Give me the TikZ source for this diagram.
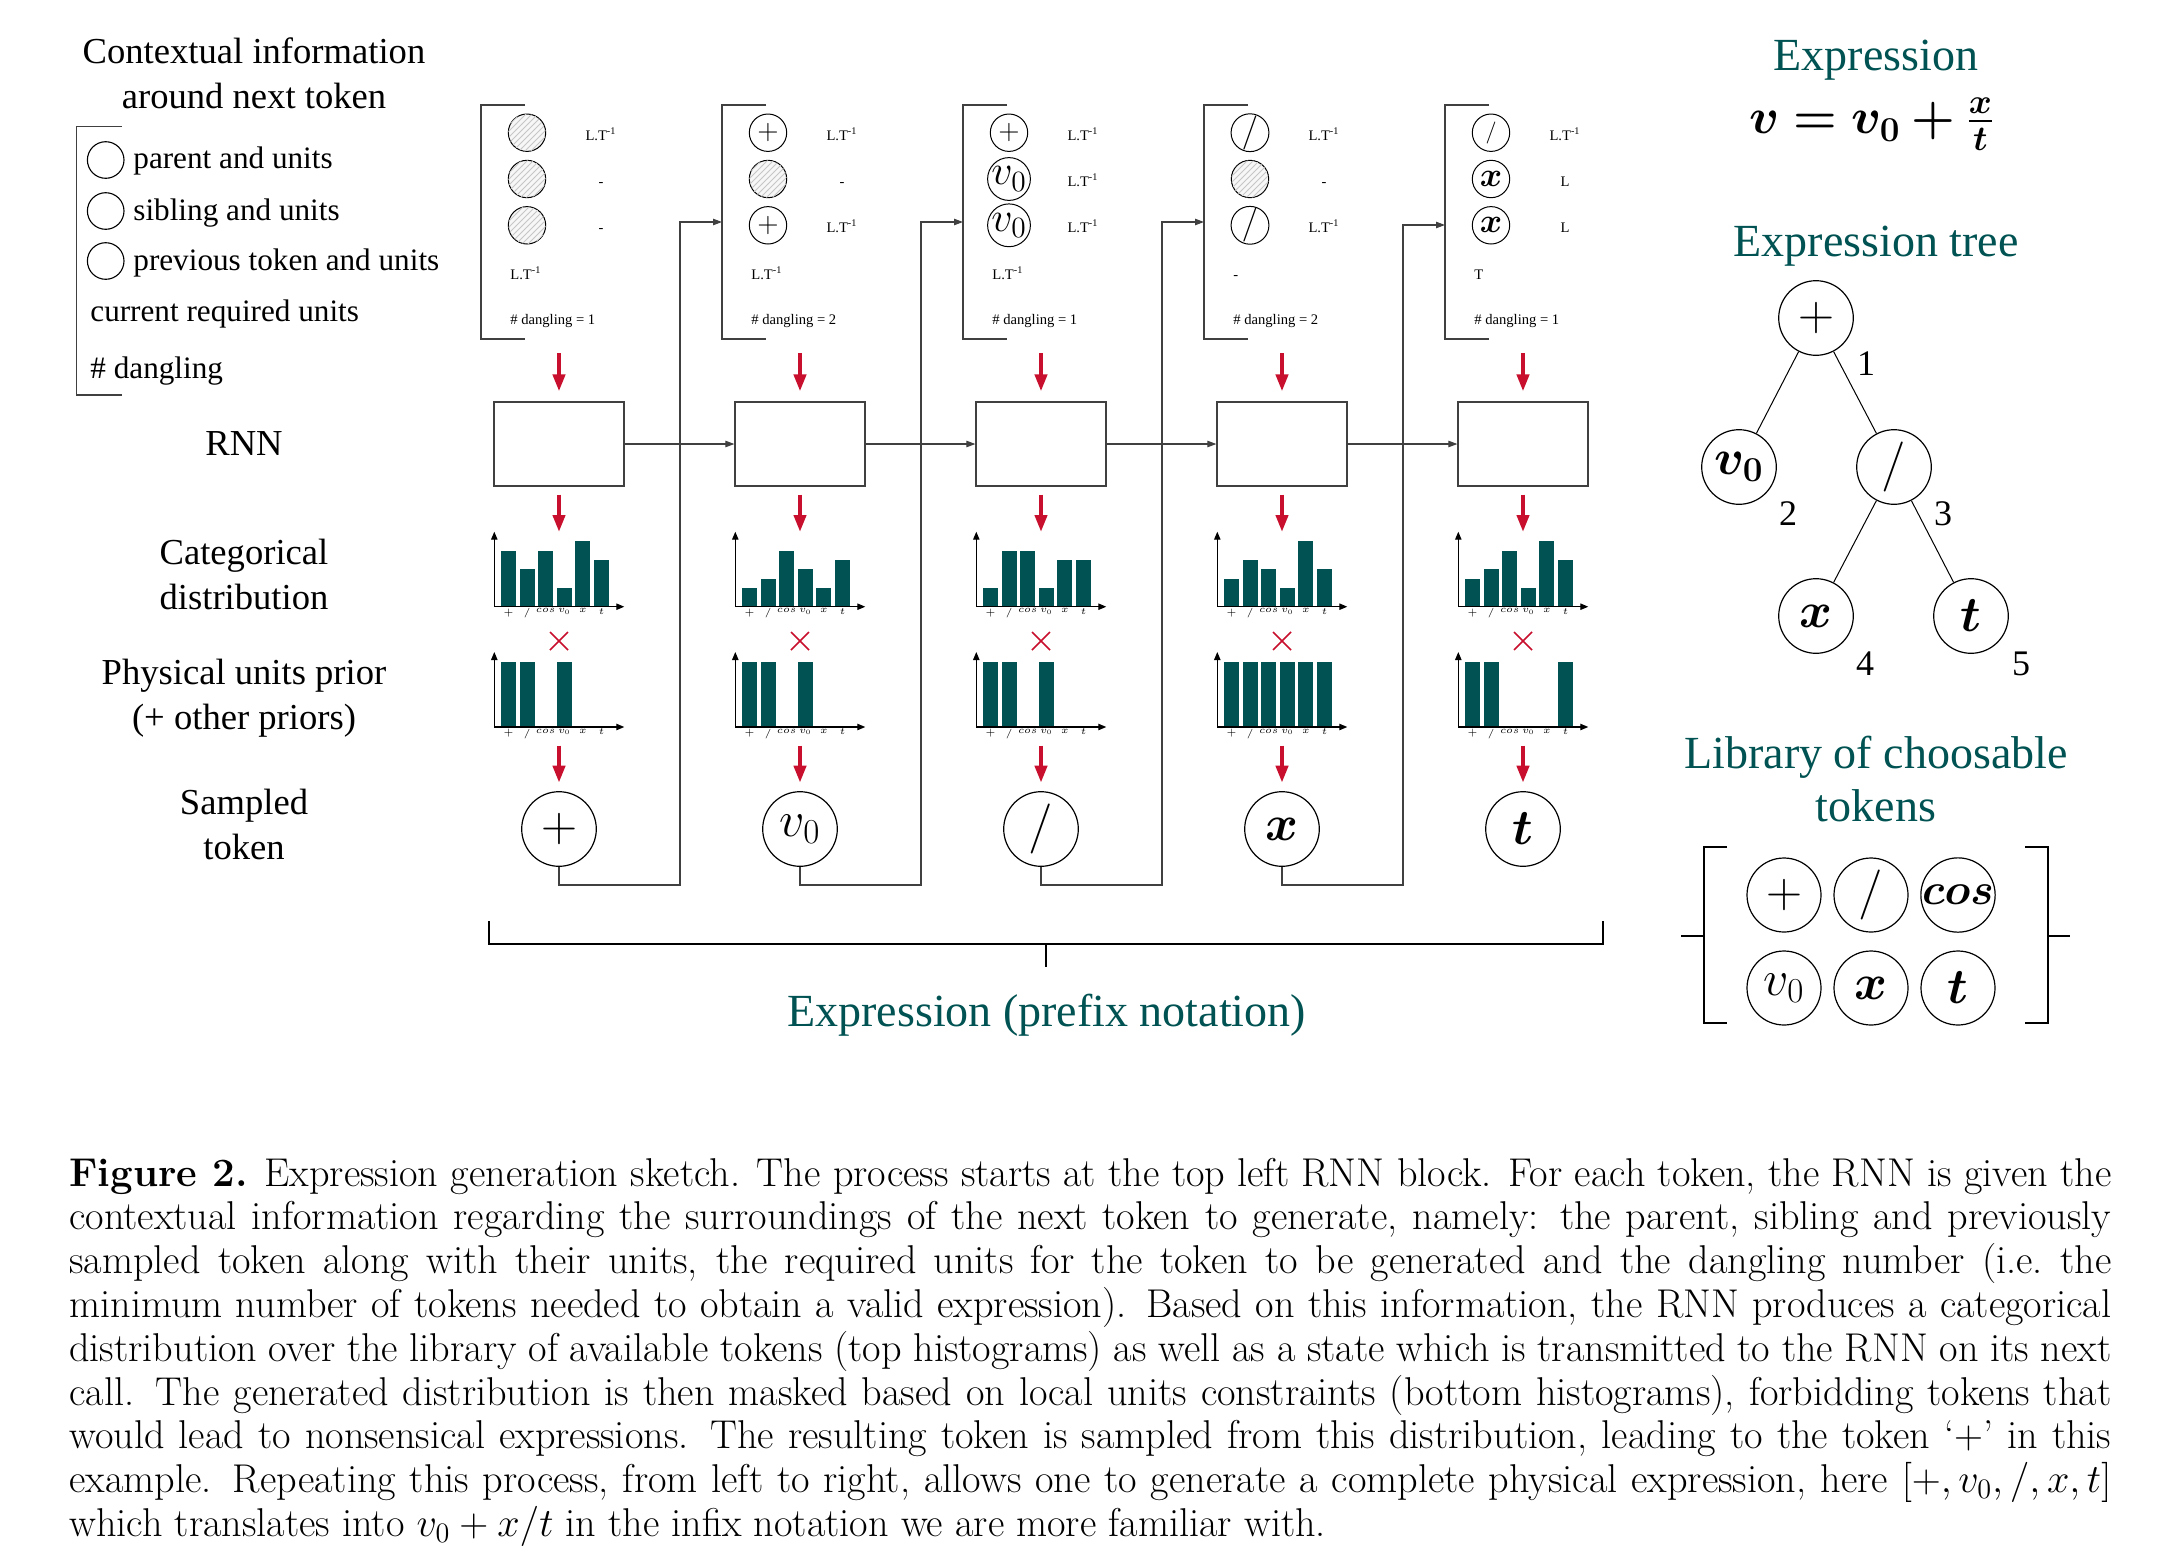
\RequirePackage{fix-cm}
\documentclass[tikz,border=0pt]{standalone}
\usepackage[no-math]{fontspec}
\usepackage{amsmath}
\usepackage{bm}
\newfontfamily\tnr{Liberation Serif}
\usetikzlibrary{arrows.meta,patterns}
\definecolor{tealc}{RGB}{0,83,82}
\definecolor{redc}{RGB}{200,16,46}
\definecolor{linec}{RGB}{64,64,64}
\newcommand\unitLT{L.T\textsuperscript{-1}}
% histogram: center x, baseline y, levels, id
\newcommand\drawhist[4]{%
  \foreach \hh [count=\ii from 0] in {#3}{%
    \fill[tealc] (#1-58+18.6*\ii,#2) rectangle (#1-43+18.6*\ii,#2-9.35*\hh);}
  \draw[axisst] (#1-64.7,#2) -- (#1-64.7,#2-75);
  \draw[axisst] (#1-64.7,#2) -- (#1+65.3,#2);
  \foreach \lab [count=\ii from 0] in {$+$,$/$,$cos$,$v_0$,$x$,$t$}{%
    \node[tick,anchor=north] (#4-\ii) at (#1-50.5+18.6*\ii,#2+1.5) {\lab};}
}
\begin{document}
\begin{tikzpicture}[x=0.5pt,y=-0.5pt,
  lbl/.style={font=\tnr\fontsize{18.3}{22.5}\selectfont,align=center,inner sep=0pt},
  item/.style={font=\tnr\fontsize{15.6}{19}\selectfont,anchor=base west,inner sep=0pt},
  ttl/.style={font=\tnr\fontsize{23}{26.7}\selectfont,text=tealc,align=center,inner sep=0pt},
  unit/.style={font=\tnr\fontsize{7.3}{9}\selectfont,inner sep=0pt,anchor=base},
  tick/.style={font=\fontsize{4.8}{5.5}\selectfont,inner sep=0pt},
  num/.style={font=\tnr\fontsize{18}{21}\selectfont,inner sep=0pt},
  big/.style={font=\fontsize{25}{29}\selectfont},
  cc/.style={circle,draw=black,line width=0.5pt,minimum size=18.7pt,inner sep=0pt,font=\fontsize{14}{16}\selectfont},
  hatch/.style={cc,fill=gray!6,postaction={pattern=north east lines,pattern color=gray!45}},
  lc/.style={circle,draw=black,line width=0.55pt,minimum size=18.3pt,inner sep=0pt},
  tokc/.style={circle,draw=black,line width=0.6pt,minimum size=37.3pt,inner sep=0pt,font=\fontsize{25}{29}\selectfont},
  rnn/.style={draw=linec,line width=0.6pt,minimum width=65pt,minimum height=42pt,inner sep=0pt},
  brk/.style={draw=linec,line width=0.6pt},
  redarrow/.style={draw=redc,line width=2pt,-{Triangle[length=8.5pt,width=6pt]}},
  flow/.style={draw=linec,line width=0.55pt,-{Triangle[length=4.5pt,width=3.2pt]}},
  axisst/.style={draw=black,line width=0.55pt,-{Triangle[length=4pt,width=3.2pt]}},
  edge/.style={draw=black,line width=0.5pt},
  bigbrk/.style={draw=black,line width=0.9pt}
]
\fill[white] (0,0) rectangle (2181,1564);
\useasboundingbox (0,0) rectangle (2181,1564);

% ---------------- left labels ----------------
\node[lbl,anchor=north] (ctxh) at (254,37.7) {Contextual information\\around next token};
\draw[brk] (121.7,126.7) -- (76.7,126.7) -- (76.7,395) -- (121.7,395);
\node[lc] (lp) at (105.7,160) {};
\node[lc] (ls) at (105.7,211) {};
\node[lc] (lv) at (105.7,261) {};
\node[item] (tp) at (133,168.3) {parent and units};
\node[item] (ts) at (133,220) {sibling and units};
\node[item] (tv) at (133,270) {previous token and units};
\node[item] (tc) at (90,321.7) {current required units};
\node[item] (td) at (90,378.3) {\# dangling};
\node[lbl,anchor=base] (lrnn) at (244,455) {RNN};
\node[lbl,anchor=north] (lcat) at (244,538.3) {Categorical\\distribution};
\node[lbl,anchor=north] (lphy) at (244,658.3) {Physical units prior\\(+ other priors)};
\node[lbl,anchor=north] (lsam) at (244,788.3) {Sampled\\token};

% ---------------- context brackets, RNN boxes, arrows ----------------
\foreach \k in {0,...,4}{
  \pgfmathsetmacro\cx{559+241*\k}
  \pgfmathsetmacro\bx{481+241*\k}
  \draw[brk] (\bx+44,105) -- (\bx,105) -- (\bx,339) -- (\bx+44,339);
  \node[rnn] (box\k) at (\cx,444) {};
  \coordinate (ra\k) at (\cx,353);
  \coordinate (hta\k) at (\cx,532);
  \coordinate (hbb\k) at (\cx,745.7);
  \draw[redarrow] (ra\k) -- ([yshift=5pt]box\k.north);
  \draw[redarrow] ([yshift=-4pt]box\k.south) -- (hta\k);
  \draw[redc,line width=0.8pt] (\cx-9,632) -- (\cx+9,650) (\cx-9,650) -- (\cx+9,632);
}

% context column 0
\node[hatch] (c0a) at (527,132.7) {};
\node[hatch] (c0b) at (527,179) {};
\node[hatch] (c0c) at (527,225.3) {};
\node[unit] (u0a) at (601,140.5) {\unitLT};
\node[unit] (u0b) at (601,186.5) {-};
\node[unit] (u0c) at (601,232.8) {-};
\node[unit,anchor=base west] (u0r) at (510,279.3) {\unitLT};
\node[unit,anchor=base west] (d0) at (510,324) {\# dangling = 1};
% context column 1
\node[cc] (c1a) at (768,132.7) {$+$};
\node[hatch] (c1b) at (768,179) {};
\node[cc] (c1c) at (768,225.3) {$+$};
\node[unit] (u1a) at (842,140.5) {\unitLT};
\node[unit] (u1b) at (842,186.5) {-};
\node[unit] (u1c) at (842,232.8) {\unitLT};
\node[unit,anchor=base west] (u1r) at (751,279.3) {\unitLT};
\node[unit,anchor=base west] (d1) at (751,324) {\# dangling = 2};
% context column 2
\node[cc] (c2a) at (1009,132.7) {$+$};
\node[cc,font=\fontsize{21}{23}\selectfont] (c2b) at (1009,179) {$v_0$};
\node[cc,font=\fontsize{21}{23}\selectfont] (c2c) at (1009,225.3) {$v_0$};
\node[unit] (u2a) at (1083,140.5) {\unitLT};
\node[unit] (u2b) at (1083,186.5) {\unitLT};
\node[unit] (u2c) at (1083,232.8) {\unitLT};
\node[unit,anchor=base west] (u2r) at (992,279.3) {\unitLT};
\node[unit,anchor=base west] (d2) at (992,324) {\# dangling = 1};
% context column 3
\node[cc,font=\fontsize{17}{19}\selectfont] (c3a) at (1250,132.7) {$/$};
\node[hatch] (c3b) at (1250,179) {};
\node[cc,font=\fontsize{17}{19}\selectfont] (c3c) at (1250,225.3) {$/$};
\node[unit] (u3a) at (1324,140.5) {\unitLT};
\node[unit] (u3b) at (1324,186.5) {-};
\node[unit] (u3c) at (1324,232.8) {\unitLT};
\node[unit,anchor=base west] (u3r) at (1233,279.3) {-};
\node[unit,anchor=base west] (d3) at (1233,324) {\# dangling = 2};
% context column 4
\node[cc,font=\fontsize{11}{13}\selectfont] (c4a) at (1491,132.7) {$/$};
\node[cc,font=\fontsize{17}{19}\selectfont] (c4b) at (1491,179) {$\bm{x}$};
\node[cc,font=\fontsize{17}{19}\selectfont] (c4c) at (1491,225.3) {$\bm{x}$};
\node[unit] (u4a) at (1565,140.5) {\unitLT};
\node[unit] (u4b) at (1565,186.5) {L};
\node[unit] (u4c) at (1565,232.8) {L};
\node[unit,anchor=base west] (u4r) at (1474,279.3) {T};
\node[unit,anchor=base west] (d4) at (1474,324) {\# dangling = 1};

% RNN state arrows
\foreach \k [evaluate=\k as \j using int(\k+1)] in {0,...,3}{
  \draw[flow] (box\k.east) -- (box\j.west);
}

% ---------------- histograms ----------------
\drawhist{559}{606.7}{6,4,6,2,7,5}{ha0}
\drawhist{800}{606.7}{2,3,6,4,2,5}{ha1}
\drawhist{1041}{606.7}{2,6,6,2,5,5}{ha2}
\drawhist{1282}{606.7}{3,5,4,2,7,4}{ha3}
\drawhist{1523}{606.7}{3,4,6,2,7,5}{ha4}
\drawhist{559}{727}{7,7,0,7,0,0}{hb0}
\drawhist{800}{727}{7,7,0,7,0,0}{hb1}
\drawhist{1041}{727}{7,7,0,7,0,0}{hb2}
\drawhist{1282}{727}{7,7,7,7,7,7}{hb3}
\drawhist{1523}{727}{7,7,0,0,0,7}{hb4}

% ---------------- sampled tokens ----------------
\node[tokc] (tok0) at (559,829) {$+$};
\node[tokc] (tok1) at (800,829) {$v_0$};
\node[tokc] (tok2) at (1041,829) {$/$};
\node[tokc] (tok3) at (1282,829) {$\bm{x}$};
\node[tokc] (tok4) at (1523,829) {$\bm{t}$};
\foreach \k in {0,...,4}{
  \draw[redarrow] (hbb\k) -- ([yshift=4.2pt]tok\k.north);
}

% feedback connections
\coordinate (in1) at (722,222);
\coordinate (in2) at (963,222);
\coordinate (in3) at (1204,222);
\coordinate (in4) at (1445,225);
\foreach \k [evaluate=\k as \j using int(\k+1), evaluate=\k as \fx using 680+241*\k] in {0,...,3}{
  \draw[flow] (tok\k.south) |- (\fx,885) |- (in\j);
}

% ---------------- bottom bracket ----------------
\draw[bigbrk] (489,921) -- (489,943.7) -- (1603,943.7) -- (1603,921);
\coordinate (bmid) at (1046,943.7);
\draw[bigbrk,line width=0.6pt] (bmid) -- ++(0,23.3);
\node[ttl,anchor=base] (prefix) at (1046.7,1026.7) {Expression (prefix notation)};

% ---------------- right side ----------------
\node[ttl,anchor=base] (exprt) at (1876,70) {Expression};
\node[big,anchor=base,inner sep=0pt] (eqn) at (1872,133.6) {$\bm{v}\mathrel{\bm{=}}\bm{v}_{\bm{0}}\mathbin{\bm{+}}\frac{\bm{x}}{\bm{t}}$};
\node[ttl,anchor=base] (treet) at (1876,256) {Expression tree};

\node[tokc] (tn1) at (1816,318) {$+$};
\node[tokc] (tn2) at (1739,467) {$\bm{v}_{\bm{0}}$};
\node[tokc] (tn3) at (1894,467) {$/$};
\node[tokc] (tn4) at (1816,616) {$\bm{x}$};
\node[tokc] (tn5) at (1971,616) {$\bm{t}$};
\draw[edge] (tn1) -- (tn2);
\draw[edge] (tn1) -- (tn3);
\draw[edge] (tn3) -- (tn4);
\draw[edge] (tn3) -- (tn5);
\node[num] (n1) at (1866,364) {1};
\node[num] (n2) at (1788,514) {2};
\node[num] (n3) at (1943,514) {3};
\node[num] (n4) at (1865,664) {4};
\node[num] (n5) at (2021,664) {5};

\node[ttl,anchor=north] (libt) at (1876,735.3) {Library of choosable\\tokens};
\draw[bigbrk] (1727,846.7) -- (1704,846.7) -- (1704,1023.3) -- (1727,1023.3);
\draw[bigbrk] (1681,935.7) -- (1704,935.7);
\draw[bigbrk] (2025,846.7) -- (2048,846.7) -- (2048,1023.3) -- (2025,1023.3);
\draw[bigbrk] (2048,935.7) -- (2070,935.7);
\node[tokc,minimum size=37pt] (lb1) at (1784,895) {$+$};
\node[tokc,minimum size=37pt] (lb2) at (1871,895) {$/$};
\node[tokc,minimum size=37pt,font=\fontsize{22}{25}\selectfont] (lb3) at (1958,895) {$\bm{cos}$};
\node[tokc,minimum size=37pt] (lb4) at (1784,988) {$v_0$};
\node[tokc,minimum size=37pt] (lb5) at (1871,988) {$\bm{x}$};
\node[tokc,minimum size=37pt] (lb6) at (1958,988) {$\bm{t}$};

% ---------------- caption ----------------
\node[anchor=base west,inner sep=0pt] (cap) at (69,1186) {\parbox[t]{1021pt}{\fontsize{20.1}{21.9}\selectfont
\textbf{Figure 2.} Expression generation sketch. The process starts at the top left RNN block. For each token, the RNN is given the\linebreak
contextual information regarding the surroundings of the next token to generate, namely: the parent, sibling and previously\linebreak
sampled token along with their units, the required units for the token to be generated and the dangling number (i.e.\ the\linebreak
minimum number of tokens needed to obtain a valid expression). Based on this information, the RNN produces a categorical\linebreak
distribution over the library of available tokens (top histograms) as well as a state which is transmitted to the RNN on its next\linebreak
call. The generated distribution is then masked based on local units constraints (bottom histograms), forbidding tokens that\linebreak
would lead to nonsensical expressions. The resulting token is sampled from this distribution, leading to the token `+' in this\linebreak
example. Repeating this process, from left to right, allows one to generate a complete physical expression, here $[+,v_0,/,x,t]$\linebreak
which translates into $v_0+x/t$ in the infix notation we are more familiar with.}};
\end{tikzpicture}
\end{document}
